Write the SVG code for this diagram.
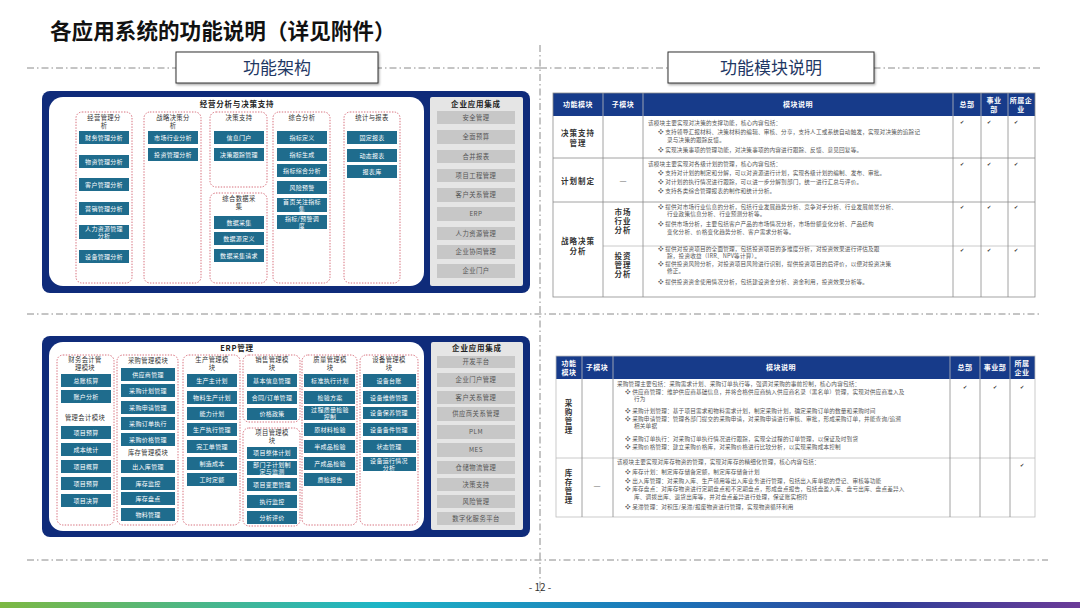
<svg xmlns="http://www.w3.org/2000/svg" width="1080" height="608" viewBox="0 0 1080 608">
<defs>
<linearGradient id="bar" x1="0" x2="1" y1="0" y2="0">
<stop offset="0" stop-color="#7DB843"/>
<stop offset="0.35" stop-color="#1DB5C6"/>
<stop offset="0.62" stop-color="#1B73B8"/>
<stop offset="0.82" stop-color="#2F3F98"/>
<stop offset="1" stop-color="#6B3B98"/>
</linearGradient>
<filter id="sh" x="-5%" y="-10%" width="110%" height="130%"><feDropShadow dx="1" dy="1.5" stdDeviation="1" flood-color="#000" flood-opacity="0.35"/></filter>
</defs>
<style>
text{font-family:"Noto Sans CJK SC","Noto Sans",sans-serif}
.dl{stroke:#8A8A8A;stroke-width:1;stroke-dasharray:7 3 1.5 3;fill:none}
.nv{fill:#0F2B7A}
.t{fill:#1F6C8D}
.tt{fill:#fff;font-size:6px;text-anchor:middle;letter-spacing:0.3px}
.d{fill:none;stroke:#D2606E;stroke-width:0.9;stroke-dasharray:1.4 1.4}
.dt{fill:#333;font-size:6.3px;text-anchor:middle;letter-spacing:0.4px}
.pt{fill:#222;font-size:7.5px;font-weight:bold;text-anchor:middle;letter-spacing:0.8px}
.g{fill:#C7C7C7}
.gt{fill:#555;font-size:6.3px;text-anchor:middle;letter-spacing:0.5px}
.hd{fill:#173B8A}
.ht{fill:#fff;font-size:7px;text-anchor:middle;font-weight:bold;letter-spacing:0.5px}
.tl{stroke:#8C8C8C;stroke-width:0.8;fill:none}
.tl2{stroke:#BDBDBD;stroke-width:0.8;fill:none}
.ct{fill:#333;font-size:7.5px;text-anchor:middle;font-weight:bold;letter-spacing:1px}
.ds{fill:#555;font-size:5.6px;letter-spacing:0.2px}
.ck{fill:#333;font-size:5px;font-family:"DejaVu Sans",sans-serif;text-anchor:middle}
</style>
<rect width="1080" height="608" fill="#fff"/>

<g id="title">
<text x="50" y="39" font-size="21.6" font-weight="bold" fill="#111">各应用系统的功能说明（详见附件）</text>
</g>

<g id="connectors">
<line class="dl" x1="27" y1="68" x2="540" y2="68"/>
<line class="dl" x1="540" y1="68" x2="1042" y2="68"/>
<line class="dl" x1="27" y1="314" x2="1042" y2="314"/>
<line class="dl" x1="27" y1="560" x2="1048" y2="560"/>
<line class="dl" x1="540" y1="45" x2="540" y2="596"/>
</g>

<g id="label-left">
<rect x="176" y="52" width="202" height="31" fill="#fff" stroke="#333" stroke-width="1" filter="url(#sh)"/>
<text x="277" y="74" font-size="17" fill="#1F3864" text-anchor="middle">功能架构</text>
</g>
<g id="label-right">
<rect x="668" y="52" width="206" height="31" fill="#fff" stroke="#333" stroke-width="1" filter="url(#sh)"/>
<text x="771" y="74" font-size="17" fill="#1F3864" text-anchor="middle">功能模块说明</text>
</g>

<!-- Top-left panel -->
<g id="panel-decision">
<rect class="nv" x="42" y="91" width="488" height="202" rx="8"/>
<rect x="49" y="97" width="375" height="189" rx="14" fill="#fff"/>
<rect x="430" y="97" width="93" height="189" rx="2" fill="#E5E5E5"/>
<text class="pt" x="237" y="107">经营分析与决策支持</text>

<rect class="d" x="76" y="112" width="56" height="171" rx="6"/>
<text class="dt" x="104" y="120">经营管理分</text><text class="dt" x="104" y="128">析</text>
<rect class="t" x="79" y="131" width="50" height="13"/><text class="tt" x="104" y="140">财务管理分析</text>
<rect class="t" x="79" y="155" width="50" height="13"/><text class="tt" x="104" y="164">物资管理分析</text>
<rect class="t" x="79" y="178" width="50" height="13"/><text class="tt" x="104" y="187">客户管理分析</text>
<rect class="t" x="79" y="202" width="50" height="13"/><text class="tt" x="104" y="211">营销管理分析</text>
<rect class="t" x="79" y="225" width="50" height="14"/><text class="tt" x="104" y="231">人力资源管理</text><text class="tt" x="104" y="238">分析</text>
<rect class="t" x="79" y="250" width="50" height="13"/><text class="tt" x="104" y="259">设备管理分析</text>

<rect class="d" x="144" y="112" width="57" height="171" rx="6"/>
<text class="dt" x="173" y="120">战略决策分</text><text class="dt" x="173" y="128">析</text>
<rect class="t" x="148" y="131" width="50" height="13"/><text class="tt" x="173" y="140">市场行业分析</text>
<rect class="t" x="148" y="148" width="50" height="13"/><text class="tt" x="173" y="157">投资管理分析</text>

<rect class="d" x="210" y="112" width="57" height="75" rx="6"/>
<text class="dt" x="239" y="120">决策支持</text>
<rect class="t" x="214" y="131" width="50" height="13"/><text class="tt" x="239" y="140">信息门户</text>
<rect class="t" x="214" y="148" width="50" height="13"/><text class="tt" x="239" y="157">决策跟踪管理</text>

<rect class="d" x="210" y="193" width="57" height="90" rx="6"/>
<text class="dt" x="239" y="201">综合数据采</text><text class="dt" x="239" y="209">集</text>
<rect class="t" x="214" y="216" width="50" height="13"/><text class="tt" x="239" y="225">数据采集</text>
<rect class="t" x="214" y="232" width="50" height="13"/><text class="tt" x="239" y="241">数据源定义</text>
<rect class="t" x="214" y="249" width="50" height="13"/><text class="tt" x="239" y="258">数据采集请求</text>

<rect class="d" x="273" y="112" width="57" height="171" rx="6"/>
<text class="dt" x="302" y="120">综合分析</text>
<rect class="t" x="277" y="131" width="50" height="13"/><text class="tt" x="302" y="140">指标定义</text>
<rect class="t" x="277" y="148" width="50" height="13"/><text class="tt" x="302" y="157">指标生成</text>
<rect class="t" x="277" y="164" width="50" height="13"/><text class="tt" x="302" y="173">指标综合分析</text>
<rect class="t" x="277" y="181" width="50" height="13"/><text class="tt" x="302" y="190">风险预警</text>
<rect class="t" x="277" y="198" width="50" height="14"/><text class="tt" x="302" y="204">首页关注指标</text><text class="tt" x="302" y="211">集</text>
<rect class="t" x="277" y="215" width="50" height="14"/><text class="tt" x="302" y="221">指标/预警调</text><text class="tt" x="302" y="228">度</text>

<rect class="d" x="344" y="112" width="56" height="171" rx="6"/>
<text class="dt" x="372" y="120">统计与报表</text>
<rect class="t" x="347" y="131" width="50" height="13"/><text class="tt" x="372" y="140">固定报表</text>
<rect class="t" x="347" y="149" width="50" height="13"/><text class="tt" x="372" y="158">动态报表</text>
<rect class="t" x="347" y="165" width="50" height="13"/><text class="tt" x="372" y="174">报表库</text>

<text class="pt" x="476" y="107" font-size="7">企业应用集成</text>
<rect class="g" x="437" y="111" width="78" height="13"/><text class="gt" x="476" y="120">安全管理</text>
<rect class="g" x="437" y="130" width="78" height="14"/><text class="gt" x="476" y="139">全面预算</text>
<rect class="g" x="437" y="150" width="78" height="13"/><text class="gt" x="476" y="159">合并报表</text>
<rect class="g" x="437" y="169" width="78" height="13"/><text class="gt" x="476" y="178">项目工程管理</text>
<rect class="g" x="437" y="188" width="78" height="14"/><text class="gt" x="476" y="197">客户关系管理</text>
<rect class="g" x="437" y="207" width="78" height="14"/><text class="gt" x="476" y="216">ERP</text>
<rect class="g" x="437" y="227" width="78" height="13"/><text class="gt" x="476" y="236">人力资源管理</text>
<rect class="g" x="437" y="245" width="78" height="14"/><text class="gt" x="476" y="254">企业协同管理</text>
<rect class="g" x="437" y="264" width="78" height="14"/><text class="gt" x="476" y="273">企业门户</text>
</g>

<!-- Bottom-left panel -->
<g id="panel-erp">
<rect class="nv" x="42" y="336" width="488" height="201" rx="8"/>
<rect x="49" y="342" width="375" height="189" rx="14" fill="#fff"/>
<rect x="431" y="342" width="92" height="188" rx="2" fill="#E5E5E5"/>
<text class="pt" x="237" y="351">ERP管理</text>

<rect class="d" x="57" y="355" width="57" height="170" rx="6"/>
<text class="dt" x="85" y="362">财务会计管</text><text class="dt" x="85" y="370">理模块</text>
<rect class="t" x="61" y="374" width="50" height="13"/><text class="tt" x="86" y="383">总账核算</text>
<rect class="t" x="61" y="390" width="50" height="13"/><text class="tt" x="86" y="399">账户分析</text>
<text class="dt" x="85" y="420">管理会计模块</text>
<rect class="t" x="61" y="426" width="50" height="13"/><text class="tt" x="86" y="435">项目预算</text>
<rect class="t" x="61" y="443" width="50" height="13"/><text class="tt" x="86" y="452">成本统计</text>
<rect class="t" x="61" y="460" width="50" height="13"/><text class="tt" x="86" y="469">项目概算</text>
<rect class="t" x="61" y="477" width="50" height="13"/><text class="tt" x="86" y="486">项目预算</text>
<rect class="t" x="61" y="494" width="50" height="13"/><text class="tt" x="86" y="503">项目决算</text>

<rect class="d" x="117" y="355" width="61" height="170" rx="6"/>
<text class="dt" x="148" y="363">采购管理模块</text>
<rect class="t" x="121" y="368" width="54" height="13"/><text class="tt" x="148" y="377">供应商管理</text>
<rect class="t" x="121" y="384" width="54" height="13"/><text class="tt" x="148" y="393">采购计划管理</text>
<rect class="t" x="121" y="401" width="54" height="13"/><text class="tt" x="148" y="410">采购申请管理</text>
<rect class="t" x="121" y="417" width="54" height="13"/><text class="tt" x="148" y="426">采购订单执行</text>
<rect class="t" x="121" y="433" width="54" height="13"/><text class="tt" x="148" y="442">采购价格管理</text>
<text class="dt" x="148" y="455">库存管理模块</text>
<rect class="t" x="121" y="460" width="54" height="13"/><text class="tt" x="148" y="469">出入库管理</text>
<rect class="t" x="121" y="477" width="54" height="13"/><text class="tt" x="148" y="486">库存监控</text>
<rect class="t" x="121" y="492" width="54" height="13"/><text class="tt" x="148" y="501">库存盘点</text>
<rect class="t" x="121" y="508" width="54" height="13"/><text class="tt" x="148" y="517">物料管理</text>

<rect class="d" x="183" y="355" width="57" height="170" rx="6"/>
<text class="dt" x="212" y="362">生产管理模</text><text class="dt" x="212" y="370">块</text>
<rect class="t" x="187" y="374" width="50" height="13"/><text class="tt" x="212" y="383">生产主计划</text>
<rect class="t" x="187" y="391" width="50" height="13"/><text class="tt" x="212" y="400">物料生产计划</text>
<rect class="t" x="187" y="407" width="50" height="13"/><text class="tt" x="212" y="416">能力计划</text>
<rect class="t" x="187" y="423" width="50" height="13"/><text class="tt" x="212" y="432">生产执行管理</text>
<rect class="t" x="187" y="440" width="50" height="13"/><text class="tt" x="212" y="449">完工单管理</text>
<rect class="t" x="187" y="457" width="50" height="13"/><text class="tt" x="212" y="466">制造成本</text>
<rect class="t" x="187" y="473" width="50" height="13"/><text class="tt" x="212" y="482">工时定额</text>

<rect class="d" x="243" y="355" width="57" height="67" rx="6"/>
<text class="dt" x="272" y="362">销售管理模</text><text class="dt" x="272" y="370">块</text>
<rect class="t" x="247" y="374" width="50" height="13"/><text class="tt" x="272" y="383">基本信息管理</text>
<rect class="t" x="247" y="391" width="50" height="13"/><text class="tt" x="272" y="400">合同/订单管理</text>
<rect class="t" x="247" y="408" width="50" height="12"/><text class="tt" x="272" y="416">价格政策</text>

<rect class="d" x="243" y="428" width="57" height="98" rx="6"/>
<text class="dt" x="272" y="435">项目管理模</text><text class="dt" x="272" y="443">块</text>
<rect class="t" x="247" y="447" width="50" height="12"/><text class="tt" x="272" y="455">项目整体计划</text>
<rect class="t" x="247" y="461" width="50" height="14"/><text class="tt" x="272" y="467">部门子计划制</text><text class="tt" x="272" y="474">定与监测</text>
<rect class="t" x="247" y="478" width="50" height="13"/><text class="tt" x="272" y="487">项目变更管理</text>
<rect class="t" x="247" y="495" width="50" height="13"/><text class="tt" x="272" y="504">执行监控</text>
<rect class="t" x="247" y="511" width="50" height="13"/><text class="tt" x="272" y="520">分析评价</text>

<rect class="d" x="302" y="355" width="55" height="170" rx="6"/>
<text class="dt" x="330" y="362">质量管理模</text><text class="dt" x="330" y="370">块</text>
<rect class="t" x="304" y="374" width="51" height="13"/><text class="tt" x="330" y="383">标准执行计划</text>
<rect class="t" x="304" y="391" width="51" height="13"/><text class="tt" x="330" y="400">检验方案</text>
<rect class="t" x="304" y="406" width="51" height="14"/><text class="tt" x="330" y="412">过程质量检验</text><text class="tt" x="330" y="419">控制</text>
<rect class="t" x="304" y="423" width="51" height="13"/><text class="tt" x="330" y="432">原材料检验</text>
<rect class="t" x="304" y="440" width="51" height="13"/><text class="tt" x="330" y="449">半成品检验</text>
<rect class="t" x="304" y="457" width="51" height="13"/><text class="tt" x="330" y="466">产成品检验</text>
<rect class="t" x="304" y="473" width="51" height="13"/><text class="tt" x="330" y="482">质检报告</text>

<rect class="d" x="360" y="355" width="58" height="170" rx="6"/>
<text class="dt" x="389" y="362">设备管理模</text><text class="dt" x="389" y="370">块</text>
<rect class="t" x="363" y="374" width="53" height="13"/><text class="tt" x="389" y="383">设备台账</text>
<rect class="t" x="363" y="391" width="53" height="13"/><text class="tt" x="389" y="400">设备维修管理</text>
<rect class="t" x="363" y="407" width="53" height="12"/><text class="tt" x="389" y="415">设备保养管理</text>
<rect class="t" x="363" y="423" width="53" height="13"/><text class="tt" x="389" y="432">设备备件管理</text>
<rect class="t" x="363" y="440" width="53" height="13"/><text class="tt" x="389" y="449">状态管理</text>
<rect class="t" x="363" y="457" width="53" height="14"/><text class="tt" x="389" y="463">设备运行情况</text><text class="tt" x="389" y="470">分析</text>

<text class="pt" x="477" y="351" font-size="7">企业应用集成</text>
<rect class="g" x="437" y="356" width="78" height="12"/><text class="gt" x="476" y="364">开发平台</text>
<rect class="g" x="437" y="373" width="78" height="14"/><text class="gt" x="476" y="382">企业门户管理</text>
<rect class="g" x="437" y="391" width="78" height="13"/><text class="gt" x="476" y="400">客户关系管理</text>
<rect class="g" x="437" y="407" width="78" height="14"/><text class="gt" x="476" y="416">供应商关系管理</text>
<rect class="g" x="437" y="425" width="78" height="14"/><text class="gt" x="476" y="434">PLM</text>
<rect class="g" x="437" y="443" width="78" height="14"/><text class="gt" x="476" y="452">MES</text>
<rect class="g" x="437" y="461" width="78" height="13"/><text class="gt" x="476" y="470">仓储物流管理</text>
<rect class="g" x="437" y="478" width="78" height="13"/><text class="gt" x="476" y="487">决策支持</text>
<rect class="g" x="437" y="495" width="78" height="13"/><text class="gt" x="476" y="504">风险管理</text>
<rect class="g" x="437" y="512" width="78" height="13"/><text class="gt" x="476" y="521">数字化服务平台</text>
</g>

<!-- Top-right table -->
<g id="table-decision">
<rect x="553" y="93" width="482" height="204" fill="#fff"/>
<rect class="hd" x="553" y="93" width="482" height="23"/>
<text class="ht" x="578" y="107">功能模块</text>
<text class="ht" x="623" y="107">子模块</text>
<text class="ht" x="798" y="107">模块说明</text>
<text class="ht" x="967" y="107">总部</text>
<text class="ht" x="994" y="103">事业</text><text class="ht" x="994" y="112">部</text>
<text class="ht" x="1021" y="103">所属企</text><text class="ht" x="1021" y="112">业</text>
<line class="tl2" x1="603" y1="93" x2="603" y2="116"/>
<line class="tl2" x1="643" y1="93" x2="643" y2="116"/>
<line class="tl2" x1="953" y1="93" x2="953" y2="116"/>
<line class="tl2" x1="981" y1="93" x2="981" y2="116"/>
<line class="tl2" x1="1008" y1="93" x2="1008" y2="116"/>
<rect class="tl" x="553" y="93" width="482" height="204"/>
<line class="tl" x1="553" y1="158" x2="1035" y2="158"/>
<line class="tl" x1="553" y1="202" x2="1035" y2="202"/>
<line class="tl2" x1="603" y1="246" x2="1035" y2="246"/>
<line class="tl" x1="603" y1="116" x2="603" y2="297"/>
<line class="tl" x1="643" y1="116" x2="643" y2="297"/>
<line class="tl" x1="953" y1="116" x2="953" y2="297"/>
<line class="tl" x1="981" y1="116" x2="981" y2="297"/>
<line class="tl" x1="1008" y1="116" x2="1008" y2="297"/>

<text class="ct" x="578" y="136">决策支持</text><text class="ct" x="578" y="146">管理</text>
<text class="ct" x="578" y="184">计划制定</text>
<text class="ct" x="578" y="244">战略决策</text><text class="ct" x="578" y="254">分析</text>
<text x="623" y="184" font-size="8" fill="#666" text-anchor="middle">—</text>
<text class="ct" x="623" y="215">市场</text><text class="ct" x="623" y="224">行业</text><text class="ct" x="623" y="233">分析</text>
<text class="ct" x="623" y="259">投资</text><text class="ct" x="623" y="268">管理</text><text class="ct" x="623" y="277">分析</text>

<text class="ds" x="648" y="125">该模块主要实现对决策的支撑功能，核心内容包括：</text>
<text class="ds" x="658" y="134">❖ 支持领导汇报材料、决策材料的编辑、审核、分享，支持人工或系统自动触发，实现对决策的追踪记</text>
<text class="ds" x="667" y="142">录与决策的跟踪反馈。</text>
<text class="ds" x="658" y="152">❖ 实现决策事项的管理功能，对决策事项的内容进行跟踪、反馈、意见回复等。</text>

<text class="ds" x="648" y="166">该模块主要实现对各级计划的管理，核心内容包括：</text>
<text class="ds" x="658" y="175">❖ 支持对计划的制定和分解，可以对资源进行计划，实现各级计划的编制、发布、审批。</text>
<text class="ds" x="658" y="184">❖ 对计划的执行情况进行跟踪，可以进一步分解到部门，统一进行汇总与评价。</text>
<text class="ds" x="658" y="193">❖ 支持各类综合管理报表的制作和统计分析。</text>

<text class="ds" x="658" y="209">❖ 提供对市场行业信息的分析，包括行业发展趋势分析、竞争对手分析、行业发展前景分析、</text>
<text class="ds" x="667" y="216">行业政策信息分析、行业预测分析等。</text>
<text class="ds" x="658" y="226">❖ 提供市场分析，主要包括客户产品的市场情况分析，市场份额变化分析、产品结构</text>
<text class="ds" x="667" y="234">变化分析、价格变化趋势分析、客户需求分析等。</text>

<text class="ds" x="658" y="251">❖ 提供对投资项目的全面管理，包括投资项目的多维度分析，对投资效果进行评估及跟</text>
<text class="ds" x="667" y="258">踪，投资收益（IRR、NPV等计算）。</text>
<text class="ds" x="658" y="266">❖ 提供投资风险分析，对投资项目风险进行识别，提供投资项目的后评价，以便对投资决策</text>
<text class="ds" x="667" y="273">修正。</text>
<text class="ds" x="658" y="284">❖ 提供投资资金使用情况分析，包括建设资金分析、资金利用，投资效果分析等。</text>

<text class="ck" x="962" y="124">✔</text><text class="ck" x="989" y="124">✔</text><text class="ck" x="1016" y="124">✔</text>
<text class="ck" x="962" y="166">✔</text><text class="ck" x="989" y="166">✔</text><text class="ck" x="1016" y="166">✔</text>
<text class="ck" x="962" y="209">✔</text><text class="ck" x="989" y="209">✔</text><text class="ck" x="1016" y="209">✔</text>
<text class="ck" x="962" y="252">✔</text><text class="ck" x="989" y="252">✔</text><text class="ck" x="1016" y="252">✔</text>
</g>

<!-- Bottom-right table -->
<g id="table-erp">
<rect x="556" y="356" width="479" height="161" fill="#fff"/>
<rect class="hd" x="556" y="356" width="479" height="23"/>
<text class="ht" x="569" y="366">功能</text><text class="ht" x="569" y="375">模块</text>
<text class="ht" x="597" y="370">子模块</text>
<text class="ht" x="781" y="370">模块说明</text>
<text class="ht" x="965" y="370">总部</text>
<text class="ht" x="995" y="370">事业部</text>
<text class="ht" x="1022" y="366">所属</text><text class="ht" x="1022" y="375">企业</text>
<line class="tl2" x1="582" y1="356" x2="582" y2="379"/>
<line class="tl2" x1="613" y1="356" x2="613" y2="379"/>
<line class="tl2" x1="950" y1="356" x2="950" y2="379"/>
<line class="tl2" x1="980" y1="356" x2="980" y2="379"/>
<line class="tl2" x1="1010" y1="356" x2="1010" y2="379"/>
<rect class="tl2" x="556" y="356" width="479" height="161"/>
<line class="tl2" x1="556" y1="458" x2="1035" y2="458"/>
<line class="tl" x1="582" y1="379" x2="582" y2="517"/>
<line class="tl" x1="613" y1="379" x2="613" y2="517"/>
<line class="tl" x1="950" y1="379" x2="950" y2="517"/>
<line class="tl" x1="980" y1="379" x2="980" y2="517"/>
<line class="tl" x1="1010" y1="379" x2="1010" y2="517"/>

<text class="ct" x="569" y="406">采</text><text class="ct" x="569" y="415">购</text><text class="ct" x="569" y="424">管</text><text class="ct" x="569" y="433">理</text>
<text class="ct" x="569" y="476">库</text><text class="ct" x="569" y="485">存</text><text class="ct" x="569" y="494">管</text><text class="ct" x="569" y="503">理</text>
<text x="597" y="489" font-size="8" fill="#666" text-anchor="middle">—</text>

<text class="ds" x="617" y="386">采购管理主要包括：采购需求计划、采购订单执行等，强调对采购的事前控制，核心内容包括：</text>
<text class="ds" x="625" y="394">❖ 供应商管理：维护供应商基础信息，并将合格供应商纳入供应商名录（黑名单）管理，实现对供应商准入及</text>
<text class="ds" x="634" y="401">行为</text>
<text class="ds" x="625" y="413">❖ 采购计划管理：基于项目需求和物料需求计划，制定采购计划，确定采购订单的数量和采购时间</text>
<text class="ds" x="625" y="421">❖ 采购申请管理：管理各部门提交的采购申请，对采购申请进行审核、审批，形成采购订单，并能查询/追溯</text>
<text class="ds" x="634" y="428">相关单据</text>
<text class="ds" x="625" y="441">❖ 采购订单执行：对采购订单执行情况进行跟踪，实现全过程的订单管理，以保证及时到货</text>
<text class="ds" x="625" y="449">❖ 采购价格管理：建立采购价格库，对采购价格进行比较分析，以实现采购成本控制</text>

<text class="ds" x="617" y="464">该模块主要实现对库存物资的管理，实现对库存的精细化管理，核心内容包括：</text>
<text class="ds" x="625" y="474">❖ 库存计划：制定库存储备定额，制定库存储备计划</text>
<text class="ds" x="625" y="483">❖ 出入库管理：对采购入库、生产领用等出入库业务进行管理，包括出入库单据的登记、审核等功能</text>
<text class="ds" x="625" y="491">❖ 库存盘点：对库存物资进行定期盘点和不定期盘点，形成盘点报告，包括盘盈入库、盘亏出库、盘点差异入</text>
<text class="ds" x="634" y="499">库、调拨出库、退货出库等，并对盘点差异进行处理，保证账实相符</text>
<text class="ds" x="625" y="509">❖ 呆滞管理：对积压/呆滞/报废物资进行管理，实现物资循环利用</text>

<text class="ck" x="965" y="389">✔</text><text class="ck" x="995" y="389">✔</text><text class="ck" x="1022" y="389">✔</text>
<text class="ck" x="1022" y="467">✔</text>
</g>

<g id="footer">
<text x="540" y="591" font-size="10" fill="#333" text-anchor="middle" font-family="Liberation Sans Narrow, Liberation Sans, sans-serif">- 12 -</text>
<rect x="0" y="602" width="1080" height="6" fill="url(#bar)"/>
</g>
</svg>
